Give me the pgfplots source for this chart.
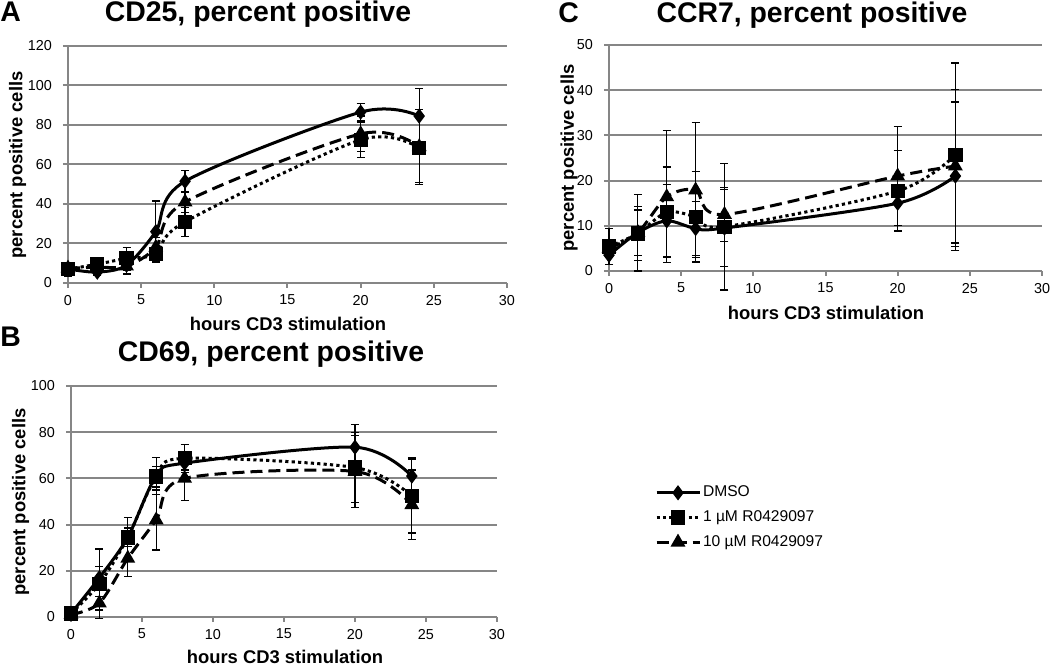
\documentclass[border=0pt]{standalone}
\usepackage{fontspec}
\setmainfont{Liberation Sans}
\usepackage{pgfplots}
\pgfplotsset{compat=1.18}
\definecolor{gridgray}{RGB}{134,134,134}
\pgfplotsset{
 excel/.style={
  scale only axis, clip=false,
  xmin=0, xmax=30, xtick={0,5,...,30},
  axis x line*=bottom, axis y line*=left,
  axis line style={gridgray, line width=1pt, -},
  every outer x axis line/.append style={-},
  every outer y axis line/.append style={-},
  ymajorgrids, grid style={gridgray, line width=1pt},
  tick style={gridgray, line width=1pt},
  tick align=outside, major tick length=2.5pt,
  ticklabel style={font=\fontsize{7.2}{8}\selectfont, text=black},
  yticklabel style={xshift=-2pt},
  /pgf/number format/assume math mode=true,
  error bars/y dir=both, error bars/y explicit,
  error bars/error bar style={solid, black, line width=0.6pt},
  error bars/error mark options={rotate=90, black, solid, line width=0.6pt, mark size=2pt},
  legend image code/.code={\draw[mark repeat=2,mark phase=2,##1] plot coordinates {(0pt,0pt)(10.75pt,0pt)(21.5pt,0pt)};},
 },
 dmso/.style={black, line width=1.5pt, smooth, mark=diamond*, mark size=2.6pt, mark options={solid}},
 one/.style={black, line width=1.5pt, smooth, dash pattern=on 1.6pt off 1.6pt, mark=square*, mark size=2.8pt, mark options={solid}},
 ten/.style={black, line width=1.5pt, smooth, dash pattern=on 6pt off 3pt, mark=triangle*, mark size=2.8pt, mark options={solid}},
}
\begin{document}
\begin{tikzpicture}
\useasboundingbox (0,0) rectangle (525pt,333.5pt);
% Panel A: CD25
\begin{axis}[excel, at={(34pt,192pt)}, anchor=south west, width=219.5pt, height=118.5pt,
  ymin=0, ymax=120, ytick={0,20,...,120}]
\addplot[ten] table[row sep=\\, y error=e] {x y e\\ 0 7.5 2\\ 2 8 2\\ 4 8.5 4\\ 6 18 5\\ 8 41 5.5\\ 20 75.5 9\\ 24 69 19\\};
\addplot[one] table[row sep=\\, y error=e] {x y e\\ 0 7 3.5\\ 2 9.5 3\\ 4 12.5 5.5\\ 6 14.8 4\\ 8 31 7.3\\ 20 72.5 9\\ 24 68.3 17.3\\};
\addplot[dmso] table[row sep=\\, y error=e] {x y e\\ 0 7.1 1.5\\ 2 5.5 1.5\\ 4 9 2.5\\ 6 26 15.5\\ 8 51.5 5.5\\ 20 86.5 4.5\\ 24 84.5 14\\};
\end{axis}
% Panel C: CCR7
\begin{axis}[excel, at={(304.5pt,198pt)}, anchor=south west, width=216.5pt, height=113pt,
  ymin=0, ymax=50, ytick={0,10,...,50}]
\addplot[ten] table[row sep=\\, y error=e] {x y e\\ 0 5 1\\ 2 8.5 8.5\\ 4 16.4 14.6\\ 6 17.9 15\\ 8 12.5 6\\ 20 21 11\\ 24 23.2 17\\};
\addplot[one] table[row sep=\\, y error=e] {x y e\\ 0 5.4 4\\ 2 8.3 6\\ 4 13 10\\ 6 12 10\\ 8 9.8 14\\ 20 17.7 9\\ 24 25.7 20.3\\};
\addplot[dmso] table[row sep=\\, y error=e] {x y e\\ 0 3.5 2\\ 2 8.5 5\\ 4 11.1 8\\ 6 9.4 6\\ 8 9.5 8.5\\ 20 15 6\\ 24 21 16.4\\};
\end{axis}
% Panel B: CD69
\begin{axis}[excel, at={(35.5pt,25pt)}, anchor=south west, width=213pt, height=115.5pt,
  ymin=0, ymax=100, ytick={0,20,...,100},
  legend style={at={(1.37,0.578)}, anchor=north west, draw=none, fill=none,
    font=\fontsize{7.8}{9}\selectfont, row sep=3.4pt, inner sep=0pt,
    nodes={inner sep=1pt}},
  legend cell align=left, reverse legend]
\addplot[ten] table[row sep=\\, y error=e] {x y e\\ 0 1 0.5\\ 2 6 3\\ 4 25.4 8\\ 6 42 13\\ 8 60 9.5\\ 20 63 15.5\\ 24 48.6 15\\};
\addlegendentry{10 µM R0429097}
\addplot[one] table[row sep=\\, y error=e] {x y e\\ 0 1.5 0.5\\ 2 14.4 15\\ 4 34.4 8.5\\ 6 60.8 4.5\\ 8 68.7 6\\ 20 64.7 15\\ 24 52.4 16\\};
\addlegendentry{1 µM R0429097}
\addplot[dmso] table[row sep=\\, y error=e] {x y e\\ 0 1.5 0.5\\ 2 17 5\\ 4 34.5 4\\ 6 61 8\\ 8 66.6 3\\ 20 73.5 10\\ 24 61 8\\};
\addlegendentry{DMSO}
\end{axis}
% Titles and labels
\begin{scope}[every node/.style={inner sep=0pt}]
\node[anchor=base west, font=\fontsize{14.2}{15}\selectfont\bfseries] at (0pt,322.5pt) {A};
\node[anchor=base, font=\fontsize{14.2}{15}\selectfont\bfseries] at (129pt,322.5pt) {CD25, percent positive};
\node[anchor=base west, font=\fontsize{14.2}{15}\selectfont\bfseries] at (279pt,322pt) {C};
\node[anchor=base, font=\fontsize{14.2}{15}\selectfont\bfseries] at (406pt,322pt) {CCR7, percent positive};
\node[anchor=base west, font=\fontsize{14.2}{15}\selectfont\bfseries] at (0pt,160pt) {B};
\node[anchor=base, font=\fontsize{14.2}{15}\selectfont\bfseries] at (135.5pt,152.5pt) {CD69, percent positive};
\node[anchor=base, font=\fontsize{9.2}{10}\selectfont\bfseries] at (144pt,168pt) {hours CD3 stimulation};
\node[anchor=base, font=\fontsize{9.2}{10}\selectfont\bfseries] at (413pt,173.5pt) {hours CD3 stimulation};
\node[anchor=base, font=\fontsize{9.2}{10}\selectfont\bfseries] at (142.5pt,1.5pt) {hours CD3 stimulation};
\node[rotate=90, font=\fontsize{9.2}{10}\selectfont\bfseries] at (8.75pt,251pt) {percent positive cells};
\node[rotate=90, font=\fontsize{9.2}{10}\selectfont\bfseries] at (284.5pt,254.5pt) {percent positive cells};
\node[rotate=90, font=\fontsize{9.2}{10}\selectfont\bfseries] at (10.25pt,82.5pt) {percent positive cells};
\end{scope}
\end{tikzpicture}
\end{document}
